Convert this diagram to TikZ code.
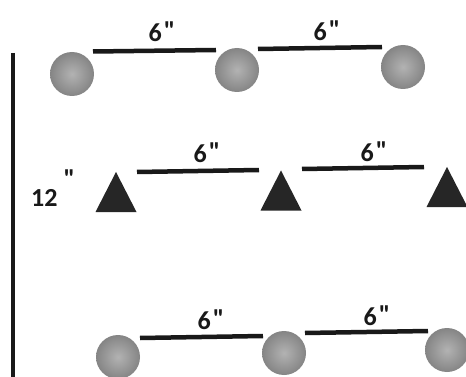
\documentclass[tikz,border=0pt]{standalone}
\usepackage{fontspec}
\setmainfont{Carlito}[Ligatures=TeXOff]
\newcommand\inchmark[1]{\raisebox{#1}{"}}
\begin{document}
\begin{tikzpicture}[x=1pt,y=-1pt,
  ball/.style={circle, minimum size=44pt, inner sep=0pt, inner color=black!30, outer color=black!48},
  bar/.style={line width=4.5pt, black!90},
  lbl/.style={font=\fontsize{26}{30}\selectfont\bfseries, anchor=base, inner sep=0pt, text=black!90},
  tri/.style={fill=black!85}]
\useasboundingbox (0,0) rectangle (466,377);
\fill[white] (0,0) rectangle (466,377);
% vertical bar
\coordinate (v1) at (13,53);
\coordinate (v2) at (13,380);
\draw[bar] (v1) -- (v2);
\node[lbl, anchor=base west] (twelve) at (31,206.5) {12\kern6pt\inchmark{19pt}};
% row 1
\node[ball] (c1) at (72,74) {};
\node[ball] (c2) at (237,70) {};
\node[ball] (c3) at (403,67) {};
\coordinate (a1) at (93,51.5); \coordinate (a2) at (216,50);
\coordinate (b1) at (258,49);  \coordinate (b2) at (382,47);
\draw[bar] (a1) -- (a2);
\draw[bar] (b1) -- (b2);
\node[lbl] (la) at (162,42) {6\kern2pt\inchmark{2pt}};
\node[lbl] (lb) at (327,41) {6\kern2pt\inchmark{2pt}};
% row 2
\coordinate (t1) at (116,192);
\coordinate (t2) at (281,190.5);
\coordinate (t3) at (447,187);
\fill[tri] (t1) ++(0,-20) -- ++(20.5,40) -- ++(-41,0) -- cycle;
\fill[tri] (t2) ++(0,-20) -- ++(20.5,40) -- ++(-41,0) -- cycle;
\fill[tri] (t3) ++(0,-20) -- ++(20.5,40) -- ++(-41,0) -- cycle;
\coordinate (d1) at (137,172); \coordinate (d2) at (259,170);
\coordinate (e1) at (302,169); \coordinate (e2) at (424,167);
\draw[bar] (d1) -- (d2);
\draw[bar] (e1) -- (e2);
\node[lbl] (lc) at (207,163) {6\kern2pt\inchmark{2pt}};
\node[lbl] (ld) at (374,161.5) {6\kern2pt\inchmark{2pt}};
% row 3
\node[ball] (c4) at (118,357) {};
\node[ball] (c5) at (284,353) {};
\node[ball] (c6) at (447,350) {};
\coordinate (f1) at (140,338); \coordinate (f2) at (263,336);
\coordinate (g1) at (305,333); \coordinate (g2) at (428,331);
\draw[bar] (f1) -- (f2);
\draw[bar] (g1) -- (g2);
\node[lbl] (le) at (211,329) {6\kern2pt\inchmark{2pt}};
\node[lbl] (lf) at (377,325) {6\kern2pt\inchmark{2pt}};
\end{tikzpicture}
\end{document}
